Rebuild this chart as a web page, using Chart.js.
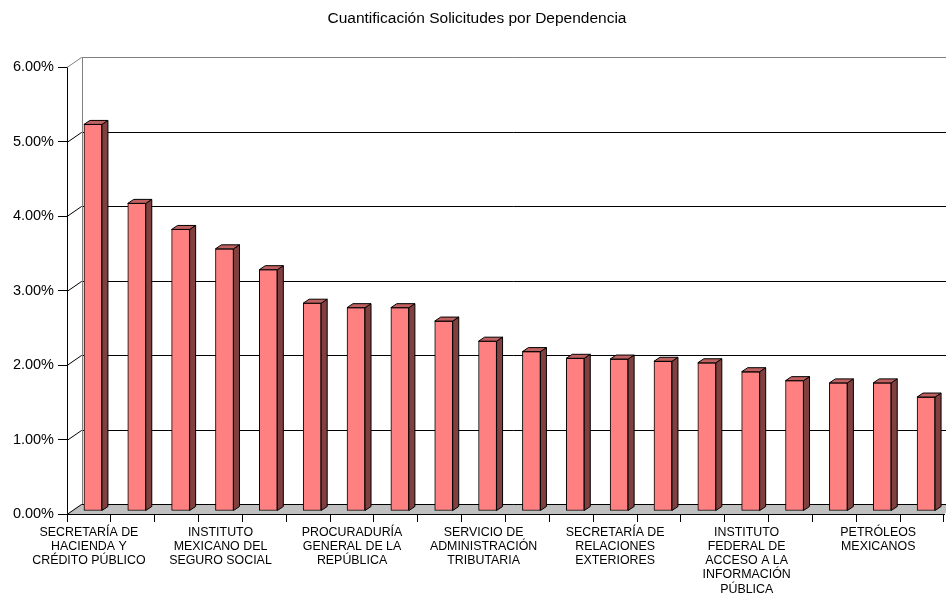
<!DOCTYPE html>
<html>
<head>
<meta charset="utf-8">
<script src="https://cdn.jsdelivr.net/npm/chart.js@4.4.0/dist/chart.umd.min.js"></script>
<style>
  html, body { margin: 0; padding: 0; background: #fff; }
  #wrap { width: 946px; height: 594px; }
</style>
</head>
<body>
<div id="wrap"><canvas id="chart" width="946" height="594"></canvas></div>
<script>
// Dependencias (solo se rotula una de cada tres, como en el original)
const categories = [
  ['SECRETARÍA DE', 'HACIENDA Y', 'CRÉDITO PÚBLICO'], '', '',
  ['INSTITUTO', 'MEXICANO DEL', 'SEGURO SOCIAL'], '', '',
  ['PROCURADURÍA', 'GENERAL DE LA', 'REPÚBLICA'], '', '',
  ['SERVICIO DE', 'ADMINISTRACIÓN', 'TRIBUTARIA'], '', '',
  ['SECRETARÍA DE', 'RELACIONES', 'EXTERIORES'], '', '',
  ['INSTITUTO', 'FEDERAL DE', 'ACCESO A LA', 'INFORMACIÓN', 'PÚBLICA'], '', '',
  ['PETRÓLEOS', 'MEXICANOS'], ''
];

// Porcentaje de solicitudes por dependencia
const porcentajes = [5.19, 4.13, 3.78, 3.52, 3.24, 2.79, 2.73, 2.73, 2.55, 2.28,
                     2.14, 2.05, 2.04, 2.01, 1.99, 1.87, 1.75, 1.72, 1.72, 1.53];

const yTicks = [0, 1, 2, 3, 4, 5, 6];

// efecto 3D tipo Excel
const WALL = { x: 14.5, y: -10 };
const BAR_SHIFT = { x: 4, y: -3 };
const BAR_DEPTH = { x: 6, y: -4 };

const efecto3d = {
  id: 'efecto3d',
  beforeDatasetsDraw(chart) {
    const ctx = chart.ctx;
    const xs = chart.scales.x, ys = chart.scales.y;
    const L = xs.left, R = xs.right;
    const y0 = ys.getPixelForValue(0);
    const yTop = ys.getPixelForValue(yTicks[yTicks.length - 1]);

    ctx.save();
    ctx.lineWidth = 1;

    // piso
    ctx.fillStyle = '#c0c0c0';
    ctx.beginPath();
    ctx.moveTo(L, y0);
    ctx.lineTo(R, y0);
    ctx.lineTo(R + WALL.x, y0 + WALL.y);
    ctx.lineTo(L + WALL.x, y0 + WALL.y);
    ctx.closePath();
    ctx.fill();

    // lineas de division (pared lateral + pared del fondo)
    yTicks.forEach((v, i) => {
      const y = Math.round(ys.getPixelForValue(v)) + 0.5;
      ctx.strokeStyle = i === yTicks.length - 1 ? '#808080' : '#000';
      ctx.beginPath();
      ctx.moveTo(L, y);
      ctx.lineTo(L + WALL.x, y + WALL.y);
      ctx.lineTo(chart.width, y + WALL.y);
      ctx.stroke();
    });

    // borde izquierdo de la pared del fondo
    const bx = Math.round(L + WALL.x) + 0.5;
    ctx.strokeStyle = '#808080';
    ctx.beginPath();
    ctx.moveTo(bx, yTop + WALL.y);
    ctx.lineTo(bx, y0 + WALL.y);
    ctx.stroke();

    // borde frontal del piso
    ctx.strokeStyle = '#000';
    const fy = Math.round(y0) + 0.5;
    ctx.beginPath();
    ctx.moveTo(L, fy);
    ctx.lineTo(R, fy);
    ctx.stroke();

    ctx.translate(BAR_SHIFT.x, BAR_SHIFT.y);
  },
  afterDatasetsDraw(chart) {
    const ctx = chart.ctx;
    ctx.lineWidth = 1;
    ctx.strokeStyle = '#000';
    chart.getDatasetMeta(0).data.forEach(bar => {
      const p = bar.getProps(['x', 'y', 'base', 'width'], true);
      const l = p.x - p.width / 2, r = p.x + p.width / 2;
      // cara lateral
      ctx.fillStyle = '#804040';
      ctx.beginPath();
      ctx.moveTo(r, p.y);
      ctx.lineTo(r + BAR_DEPTH.x, p.y + BAR_DEPTH.y);
      ctx.lineTo(r + BAR_DEPTH.x, p.base + BAR_DEPTH.y);
      ctx.lineTo(r, p.base);
      ctx.closePath();
      ctx.fill();
      ctx.stroke();
      // cara superior
      ctx.fillStyle = '#c06060';
      ctx.beginPath();
      ctx.moveTo(l, p.y);
      ctx.lineTo(l + BAR_DEPTH.x, p.y + BAR_DEPTH.y);
      ctx.lineTo(r + BAR_DEPTH.x, p.y + BAR_DEPTH.y);
      ctx.lineTo(r, p.y);
      ctx.closePath();
      ctx.fill();
      ctx.stroke();
    });
    ctx.restore();
  }
};

const fuente = '"Liberation Sans", Arial, sans-serif';

new Chart(document.getElementById('chart'), {
  type: 'bar',
  data: {
    labels: categories,
    datasets: [{
      data: porcentajes,
      backgroundColor: '#ff8080',
      borderColor: '#000',
      borderWidth: 1,
      borderSkipped: false,
      barThickness: 18
    }]
  },
  options: {
    responsive: false,
    animation: false,
    devicePixelRatio: 1,
    layout: { padding: { left: 10, right: 2, top: 0, bottom: 0 } },
    plugins: {
      legend: { display: false },
      tooltip: { enabled: false },
      title: {
        display: true,
        text: 'Cuantificación Solicitudes por Dependencia',
        color: '#000',
        font: { family: fuente, size: 15.5, weight: 'normal' },
        padding: { top: 9.5, bottom: 39 }
      }
    },
    scales: {
      x: {
        grid: { display: true, drawOnChartArea: false, drawTicks: true, tickLength: 8, color: '#000', offset: true },
        border: { display: true, color: '#000' },
        ticks: {
          autoSkip: false, maxRotation: 0, minRotation: 0, padding: 3, color: '#000',
          font: { family: fuente, size: 12.4, lineHeight: 1.15 }
        },
        afterFit(scale) { scale.height = 80; }
      },
      y: {
        min: 0, max: 6,
        grid: { display: true, drawOnChartArea: false, drawTicks: true, tickLength: 9, color: '#000' },
        border: { display: true, color: '#000' },
        ticks: {
          stepSize: 1, padding: 4, color: '#000',
          font: { family: fuente, size: 14.5 },
          callback: v => v.toFixed(2) + '%'
        },
        afterFit(scale) { scale.width = 57; }
      }
    }
  },
  plugins: [efecto3d]
});
</script>
</body>
</html>
